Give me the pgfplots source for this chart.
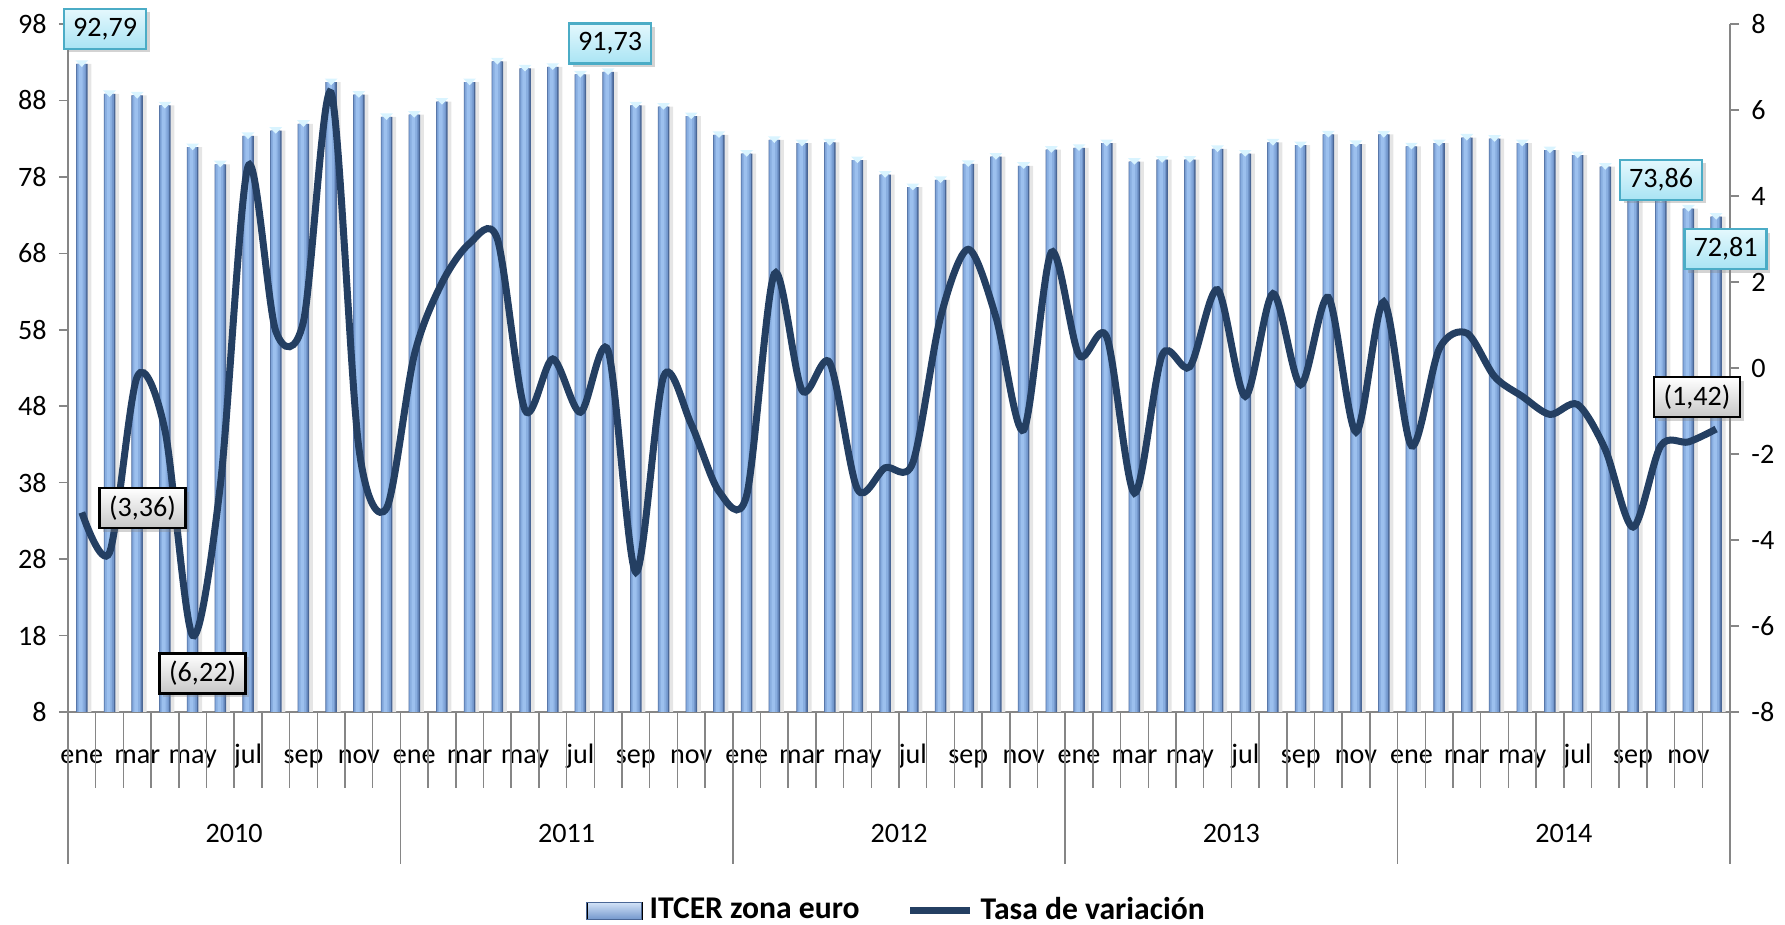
\documentclass[border=0pt]{standalone}
\usepackage{pgfplots}
\pgfplotsset{compat=1.18}
\usepackage{pgfplotstable}
\usepackage{fontspec}
\setmainfont{Carlito}
\usetikzlibrary{shadows}

\definecolor{barE}{HTML}{4A6796}
\definecolor{barL}{HTML}{7397CC}
\definecolor{barM}{HTML}{89AEE0}
\definecolor{barH}{HTML}{9CC0EE}
\definecolor{barcap}{HTML}{D9F4FF}
\definecolor{tasa}{HTML}{243F62}
\definecolor{axgray}{HTML}{868686}
\definecolor{lblborder}{HTML}{4BACC6}
\definecolor{lbltop}{HTML}{E4F8FD}
\definecolor{lblbot}{HTML}{A9E4F4}

% ITCER zona euro, ene 2010 .. dic 2014
\pgfplotstableread{
x itcer
1 92.79
2 88.85
3 88.65
4 87.35
5 81.90
6 79.65
7 83.35
8 84.05
9 84.95
10 90.40
11 88.75
12 85.85
13 86.15
14 87.85
15 90.40
16 93.10
17 92.20
18 92.40
19 91.40
20 91.73
21 87.35
22 87.20
23 85.95
24 83.50
25 81.05
26 82.85
27 82.40
28 82.50
29 80.20
30 78.30
31 76.65
32 77.60
33 79.70
34 80.65
35 79.45
36 81.55
37 81.80
38 82.40
39 80.00
40 80.25
41 80.25
42 81.65
43 81.05
44 82.50
45 82.15
46 83.55
47 82.30
48 83.55
49 82.00
50 82.40
51 83.15
52 83.00
53 82.40
54 81.50
55 80.85
56 79.35
57 76.45
58 75.10
59 73.86
60 72.81
}\itcer

% tasa de variacion mensual
\pgfplotstableread{
x t
1 -3.36
2 -4.29
3 -0.20
4 -1.45
5 -6.22
6 -2.72
7 4.69
8 0.86
9 1.08
10 6.40
11 -1.86
12 -3.26
13 0.30
14 1.98
15 2.90
16 3.00
17 -0.98
18 0.21
19 -1.03
20 0.40
21 -4.75
22 -0.20
23 -1.31
24 -2.87
25 -2.96
26 2.19
27 -0.52
28 0.12
29 -2.82
30 -2.32
31 -2.20
32 1.18
33 2.76
34 1.18
35 -1.44
36 2.69
37 0.30
38 0.72
39 -2.91
40 0.30
41 0.03
42 1.82
43 -0.66
44 1.73
45 -0.39
46 1.64
47 -1.49
48 1.54
49 -1.81
50 0.44
51 0.81
52 -0.20
53 -0.66
54 -1.08
55 -0.85
56 -1.90
57 -3.70
58 -1.81
59 -1.72
60 -1.42
}\tasadata

\tikzset{
  vlab/.style={draw=lblborder, line width=0.25mm, top color=lbltop, bottom color=lblbot,
    minimum width=8.2mm, minimum height=4mm, inner sep=0pt,
    drop shadow={shadow xshift=0.35mm, shadow yshift=-0.35mm, opacity=0.35},
    font=\fontsize{8}{9.6}\selectfont},
  tlab/.style={draw=black, line width=0.25mm, top color=white, bottom color=black!22,
    minimum width=8.6mm, minimum height=4mm, inner sep=0pt,
    drop shadow={shadow xshift=0.35mm, shadow yshift=-0.35mm, opacity=0.35},
    font=\fontsize{8}{9.6}\selectfont},
}

\pgfplotsset{
  common/.style={
    scale only axis, width=166.2mm, height=68.8mm,
    xmin=0.5, xmax=60.5,
    axis line style={axgray, line width=0.15mm},
    tick style={axgray, line width=0.15mm},
    tick align=outside, major tick length=0.9mm,
    ticklabel style={font=\fontsize{8}{9.6}\selectfont, text=black},
    /pgf/number format/assume math mode=true,
  },
}

\begin{document}
\begin{tikzpicture}
\begin{axis}[
  common,
  ymin=8, ymax=98,
  clip mode=individual,
  axis x line*=bottom, axis y line*=left,
  ytick={8,18,...,98},
  xtick={1,3,...,59},
  xticklabels={ene,mar,may,jul,sep,nov,ene,mar,may,jul,sep,nov,ene,mar,may,jul,sep,nov,ene,mar,may,jul,sep,nov,ene,mar,may,jul,sep,nov},
  x tick style={draw=none},
  xticklabel style={anchor=base, yshift=-4.3mm},
]
% sombra gris a la derecha de cada barra y barras en capas (efecto bisel)
\addplot[ybar, bar width=1.1mm, bar shift=0.4mm, draw=none, fill=black!10]
  table[x=x, y=itcer]{\itcer};
\addplot[ybar, bar width=1.15mm, draw=none, fill=barE]
  table[x=x, y=itcer]{\itcer};
\addplot[ybar, bar width=0.95mm, bar shift=-0.05mm, draw=none, fill=barL]
  table[x=x, y=itcer]{\itcer};
\addplot[ybar, bar width=0.7mm, bar shift=-0.08mm, draw=none, fill=barM]
  table[x=x, y=itcer]{\itcer};
\addplot[ybar, bar width=0.35mm, bar shift=-0.1mm, draw=none, fill=barH]
  table[x=x, y=itcer]{\itcer};
\addplot[only marks, color=barcap, mark=triangle*, mark size=0.55mm,
  mark options={rotate=180, yscale=0.6, yshift=-0.2mm, fill=barcap, draw=none}]
  table[x=x, y=itcer]{\itcer};
\coordinate (SW) at (rel axis cs:0,0);
\coordinate (B1) at (axis cs:1.84,97.35);
\coordinate (B20) at (axis cs:20.07,95.45);
\coordinate (B59) at (axis cs:58.01,77.6);
\coordinate (B60) at (axis cs:60.34,68.55);
\end{axis}

\begin{axis}[
  common,
  ymin=-8, ymax=8,
  axis x line=none, axis y line*=right,
  ytick={-8,-6,...,8},
  legend style={at={(0.5,-0.2892)}, anchor=center, draw=none, fill=none,
    legend columns=2, font=\bfseries\fontsize{9}{11}\selectfont,
    /tikz/every even column/.append style={column sep=4mm}},
]
\addlegendimage{legend image code/.code={
  \shade[top color=barH!45!white, bottom color=barL] (0mm,-0.85mm) rectangle (5.5mm,0.85mm);
  \draw[barE, line width=0.1mm] (0mm,-0.85mm) rectangle (5.5mm,0.85mm);}}
\addlegendentry{ITCER zona euro}
\addplot[tasa, line width=0.7mm, smooth,
  legend image code/.code={\draw[tasa, line width=0.7mm] (0mm,0mm) -- (6mm,0mm);}]
  table[x=x, y=t]{\tasadata};
\addlegendentry{Tasa de variación}
\coordinate (T1) at (axis cs:3.19,-3.26);
\coordinate (T5) at (axis cs:5.36,-7.10);
\coordinate (T60) at (axis cs:59.31,-0.68);
\end{axis}

% eje de categorias: meses y anos
\foreach \i in {0,...,60}
  \draw[axgray, line width=0.15mm] ([xshift=\i*2.77mm]SW) -- ++(0,-7.6mm);
\foreach \i in {0,12,...,60}
  \draw[axgray, line width=0.15mm] ([xshift=\i*2.77mm]SW) -- ++(0,-15.2mm);
\foreach \y [count=\k from 0] in {2010,2011,2012,2013,2014}
  \node[font=\fontsize{8}{9.6}\selectfont] at ([xshift={(6+12*\k)*2.77mm}, yshift=-12.1mm]SW) {\y};

% etiquetas de datos
\node[vlab] at (B1) {92,79};
\node[vlab] at (B20) {91,73};
\node[vlab] at (B59) {73,86};
\node[vlab] at (B60) {72,81};
\node[tlab] at (T1) {(3,36)};
\node[tlab] at (T5) {(6,22)};
\node[tlab] at (T60) {(1,42)};

\pgfresetboundingbox
\path[use as bounding box] ([shift={(-6.8mm,-21.3mm)}]SW) rectangle ([shift={(171.7mm,71.2mm)}]SW);
\end{tikzpicture}
\end{document}
